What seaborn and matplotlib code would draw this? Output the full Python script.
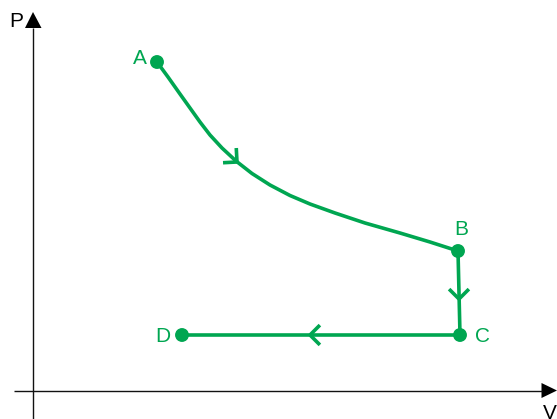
import matplotlib
matplotlib.use("Agg")
import matplotlib.pyplot as plt
import seaborn as sns
import pandas as pd
import numpy as np
from matplotlib.patches import Polygon

sns.set_theme(style="white")
plt.rcParams['font.family'] = ['Liberation Sans', 'DejaVu Sans']

GREEN = "#00a651"
W, H = 557, 419

# Process curve A -> B (pixel-based coordinates: V = x, P = H - y)
curve_v = [157, 168, 180, 190, 200, 210, 222, 236, 252, 270, 290, 310, 335, 365, 400, 430, 458]
curve_y = [62, 77, 94, 108, 122, 135, 148, 161, 173.5, 185, 195.5, 204, 213, 223, 233, 242, 251]
# Straight segments B -> C -> D
seg_v = [458, 460, 182]
seg_y = [251, 335, 335]
# State points
pt_names = ["A", "B", "C", "D"]
pt_v = [157, 458, 460, 182]
pt_y = [62, 251, 335, 335]
lab_v = [140, 461, 483, 163]
lab_y = [58, 229, 336, 336]
# Direction chevrons: apex and travel direction (degrees, screen coords)
arr_v = [237, 459, 310]
arr_y = [162, 299, 335]
arr_dir = [-42, -90, 180]

curve = pd.DataFrame({"V": curve_v, "P": [H - y for y in curve_y]})
seg = pd.DataFrame({"V": seg_v, "P": [H - y for y in seg_y]})
pts = pd.DataFrame({"V": pt_v, "P": [H - y for y in pt_y]})

fig = plt.figure(figsize=(W / 100, H / 100), dpi=100)
ax = fig.add_axes([0, 0, 1, 1])
ax.set_xlim(0, W)
ax.set_ylim(0, H)
ax.axis("off")

# coordinate axes
ax.plot([33, 33], [0, H - 28], color="#111111", lw=1.0, solid_capstyle="butt")
ax.add_patch(Polygon([[25, H - 28], [41.5, H - 28], [33, H - 12]], closed=True,
                     color="#000000", lw=0))
ax.plot([14, 542], [H - 391, H - 391], color="#111111", lw=1.0, solid_capstyle="butt")
ax.add_patch(Polygon([[541.5, H - 383], [541.5, H - 398], [557, H - 390.5]], closed=True,
                     color="#000000", lw=0))
ax.text(16, H - 22, "P", fontsize=15, ha="center", va="center", color="#000000")
ax.text(550, H - 413, "V", fontsize=15, ha="center", va="center", color="#000000")

sns.lineplot(data=curve, x="V", y="P", sort=False, estimator=None, ax=ax,
             color=GREEN, lw=2.6, legend=False)
sns.lineplot(data=seg, x="V", y="P", sort=False, estimator=None, ax=ax,
             color=GREEN, lw=2.6, legend=False)
for line in ax.get_lines():
    line.set_solid_joinstyle("round")
sns.scatterplot(data=pts, x="V", y="P", ax=ax, color=GREEN, s=100,
                edgecolor="none", zorder=5, legend=False)

# chevrons
L = 14
for v, y, d in zip(arr_v, arr_y, arr_dir):
    ang = np.deg2rad(d)
    back = ang + np.pi
    for s in (-1, 1):
        a = back + s * np.pi / 4
        x2 = v + L * np.cos(a)
        y2 = (H - y) + L * np.sin(a)
        ax.plot([v, x2], [H - y, y2], color=GREEN, lw=2.6, solid_capstyle="butt")

for n, v, y in zip(pt_names, lab_v, lab_y):
    ax.text(v, H - y, n, fontsize=15, ha="center", va="center", color=GREEN)

ax.set_xlabel("")
ax.set_ylabel("")
fig.savefig("out.png", dpi=100)
